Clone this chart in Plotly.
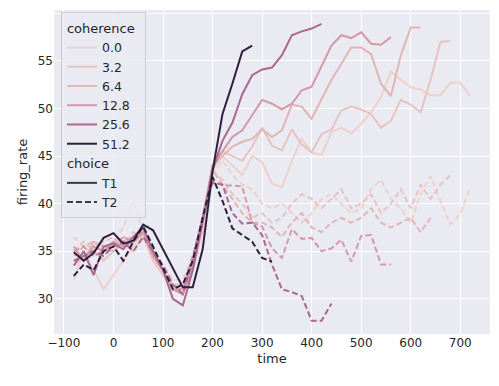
import numpy as np
import plotly.graph_objects as go

# ---------------- data ----------------
times = list(range(-80, 740, 20))  # -80 .. 720
coherence_levels = [0.0, 3.2, 6.4, 12.8, 25.6, 51.2]
coherence_labels = ["0.0", "3.2", "6.4", "12.8", "25.6", "51.2"]
choices = ["T1", "T2"]
x_ticks = [-100, 0, 100, 200, 300, 400, 500, 600, 700]
y_ticks = [30, 35, 40, 45, 50, 55, 60]

# firing rates, starting at time -80, one value per 20 ms
rate_c00_t1 = [32.0, 35.0, 33.0, 31.0, 32.5, 34.0, 35.5, 37.0, 34.5, 33.0, 31.5, 31.0, 33.0,
               37.0, 43.5, 45.0, 44.0, 43.0, 45.0, 44.4, 42.1, 41.7, 44.5, 46.8, 45.4, 45.1,
               47.5, 48.0, 47.4, 48.4, 49.6, 51.2, 53.9, 53.0, 52.2, 52.0, 51.4, 51.4, 52.7,
               52.7, 51.3]
rate_c00_t2 = [36.5, 35.5, 34.5, 35.5, 36.0, 37.5, 40.3, 37.0, 35.0, 33.5, 32.0, 32.0, 34.5,
               38.0, 43.0, 44.5, 43.0, 42.0, 41.5, 40.0, 39.5, 40.0, 39.0, 38.0, 39.0, 40.5,
               41.0, 40.0, 39.0, 39.5, 41.5, 42.5, 40.5, 39.5, 38.0, 41.0, 42.9, 40.3, 37.8,
               38.9, 41.7]
rate_c32_t1 = [33.5, 34.5, 35.0, 34.0, 35.0, 36.0, 35.0, 36.5, 34.0, 32.5, 31.0, 30.5, 33.5,
               38.0, 44.0, 45.5, 45.0, 44.5, 46.0, 48.0, 46.1, 45.6, 47.8, 46.2, 45.4, 47.3,
               47.8, 49.8, 50.2, 49.9, 49.4, 48.0, 48.7, 50.9, 50.4, 49.6, 53.0, 57.0, 57.1]
rate_c32_t2 = [35.0, 36.0, 35.0, 36.0, 36.5, 35.5, 37.0, 36.5, 34.5, 33.0, 31.5, 31.5, 34.0,
               38.5, 43.5, 42.5, 41.0, 40.0, 38.5, 39.0, 38.0, 38.5, 40.0, 41.0, 40.5, 39.5,
               40.5, 41.5, 39.5, 40.0, 41.0, 39.0, 40.0, 41.5, 39.5, 42.0, 40.5, 42.0, 43.0]
rate_c64_t1 = [35.0, 34.0, 36.0, 35.5, 35.0, 36.0, 36.5, 37.0, 34.5, 33.0, 31.0, 30.5, 33.5,
               38.0, 44.0, 45.0, 46.0, 46.5, 46.8, 47.8, 47.0, 47.7, 50.4, 50.2, 48.9, 51.0,
               53.0, 54.7, 56.4, 56.4, 55.7, 52.6, 51.3, 55.6, 58.5, 58.5]
rate_c64_t2 = [34.5, 35.5, 36.0, 35.0, 36.0, 36.5, 36.0, 37.0, 35.0, 33.0, 31.0, 31.0, 34.0,
               38.5, 43.5, 42.0, 40.5, 39.0, 38.0, 38.0, 37.5, 36.5, 38.0, 39.0, 37.5, 37.0,
               38.0, 38.5, 38.0, 38.5, 39.5, 38.0, 37.5, 38.0, 38.5, 37.0, 38.5]
rate_c128_t1 = [35.5, 34.0, 35.5, 35.0, 36.0, 35.5, 36.0, 37.0, 34.5, 33.0, 31.0, 30.5, 33.5,
                38.5, 44.0, 45.5, 47.0, 47.7, 49.3, 50.9, 50.5, 49.9, 50.5, 51.9, 52.3, 54.4,
                56.6, 57.7, 57.4, 58.0, 56.8, 56.7, 57.5]
rate_c128_t2 = [35.0, 35.5, 34.5, 35.0, 35.5, 36.5, 36.0, 37.0, 35.0, 33.5, 31.0, 31.0, 34.5,
                38.5, 42.5, 41.9, 41.9, 41.8, 38.0, 37.6, 35.3, 34.3, 37.3, 36.3, 36.4, 35.0,
                35.3, 36.2, 33.9, 36.6, 36.7, 33.6, 33.6]
rate_c256_t1 = [33.5, 35.0, 32.5, 35.5, 35.8, 35.2, 36.5, 37.5, 35.0, 33.0, 30.0, 29.3, 33.0,
                38.0, 43.5, 46.6, 48.5, 51.5, 53.5, 54.1, 54.3, 55.6, 57.7, 58.1, 58.4, 58.9]
rate_c256_t2 = [34.0, 34.5, 35.0, 34.5, 35.5, 36.0, 35.0, 36.5, 35.0, 33.5, 31.5, 30.5, 34.0,
                38.5, 42.2, 42.0, 39.0, 37.9, 38.0, 36.7, 33.6, 31.0, 30.7, 30.3, 27.7, 27.7,
                29.5]
rate_c512_t1 = [34.9, 34.0, 34.8, 36.4, 36.9, 35.8, 36.1, 37.8, 37.2, 35.2, 33.2, 31.2, 31.2,
                35.2, 43.4, 49.4, 52.6, 56.0, 56.6]
rate_c512_t2 = [32.4, 33.6, 33.0, 35.0, 35.5, 34.0, 36.0, 37.6, 35.5, 33.2, 31.0, 31.5, 34.0,
                38.5, 42.8, 40.3, 37.4, 36.7, 36.0, 34.3, 33.9]

series = {
    (0.0, "T1"): rate_c00_t1, (0.0, "T2"): rate_c00_t2,
    (3.2, "T1"): rate_c32_t1, (3.2, "T2"): rate_c32_t2,
    (6.4, "T1"): rate_c64_t1, (6.4, "T2"): rate_c64_t2,
    (12.8, "T1"): rate_c128_t1, (12.8, "T2"): rate_c128_t2,
    (25.6, "T1"): rate_c256_t1, (25.6, "T2"): rate_c256_t2,
    (51.2, "T1"): rate_c512_t1, (51.2, "T2"): rate_c512_t2,
}


# ---------------- colours (seaborn default "ch:" cubehelix map) ----------------
def cubehelix(frac, start=0.0, rot=0.4, gamma=1.0, hue=0.8, light=0.85, dark=0.15):
    x = light + (dark - light) * frac
    xg = x ** gamma
    a = hue * xg * (1 - xg) / 2
    phi = 2 * np.pi * (start / 3 + rot * x)
    r = xg + a * (-0.14861 * np.cos(phi) + 1.78277 * np.sin(phi))
    g = xg + a * (-0.29227 * np.cos(phi) - 0.90649 * np.sin(phi))
    b = xg + a * (1.97294 * np.cos(phi))
    c = [int(round(255 * min(max(v, 0), 1))) for v in (r, g, b)]
    return "rgb({},{},{})".format(*c)


cmax = max(coherence_levels)
colors = {c: cubehelix(c / cmax) for c in coherence_levels}
dashes = {"T1": "solid", "T2": "6px,3px"}
TEXT = "#262626"

fig = go.Figure()

for c in coherence_levels:
    for ch in choices:
        vals = series[(c, ch)]
        fig.add_trace(go.Scatter(
            x=times[:len(vals)], y=vals, mode="lines",
            line=dict(color=colors[c], width=2, dash=dashes[ch]),
            showlegend=False, hoverinfo="skip",
        ))

# legend entries
for c, lab in zip(coherence_levels, coherence_labels):
    fig.add_trace(go.Scatter(
        x=[None], y=[None], mode="lines", name=lab,
        line=dict(color=colors[c], width=2),
        legendgroup="coherence", legendgrouptitle=dict(text="coherence", font=dict(size=13, color=TEXT)),
    ))
for ch in choices:
    fig.add_trace(go.Scatter(
        x=[None], y=[None], mode="lines", name=ch,
        line=dict(color="#3b3b3b", width=2, dash=dashes[ch]),
        legendgroup="choice", legendgrouptitle=dict(text="choice", font=dict(size=13, color=TEXT)),
    ))

# the page body adds an 8px offset, so the margins are shifted to compensate
fig.update_layout(
    width=499, height=386,
    margin=dict(l=46, r=17, t=2, b=60, autoexpand=False),
    paper_bgcolor="white", plot_bgcolor="#EAEAF2",
    font=dict(family="DejaVu Sans", color=TEXT, size=12),
    legend=dict(
        x=0.016, y=0.994, xanchor="left", yanchor="top", maxheight=380,
        bgcolor="rgba(234,234,242,0.8)", bordercolor="#cccccc", borderwidth=1,
        font=dict(size=12.5, color=TEXT), tracegroupgap=0, itemwidth=30,
        traceorder="grouped",
    ),
    xaxis=dict(
        range=[-120, 760], tickvals=x_ticks, showgrid=True, gridcolor="white", gridwidth=1,
        zeroline=False, showline=False, ticks="", tickfont=dict(size=12, color=TEXT),
        title=dict(text="time", font=dict(size=13, color=TEXT), standoff=4),
    ),
    yaxis=dict(
        range=[26.3, 60.35], tickvals=y_ticks, showgrid=True, gridcolor="white", gridwidth=1,
        zeroline=False, showline=False, ticks="", tickfont=dict(size=12, color=TEXT),
        title=dict(text="firing_rate", font=dict(size=13, color=TEXT), standoff=7),
    ),
)

fig.write_html("out.html")
